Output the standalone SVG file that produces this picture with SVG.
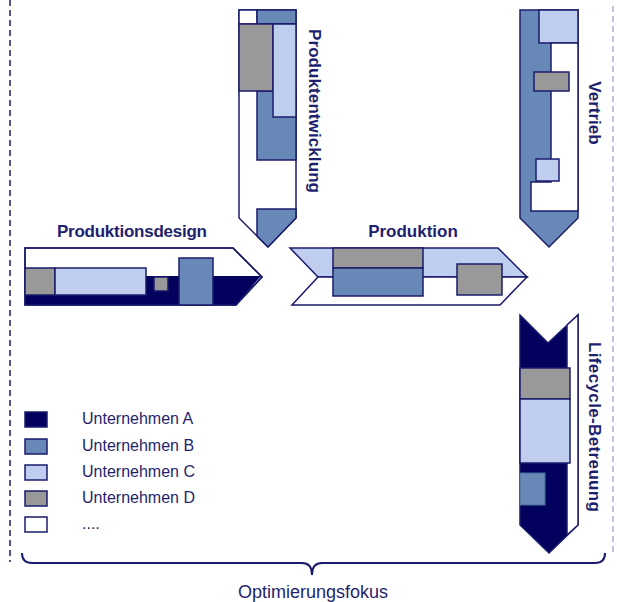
<svg xmlns="http://www.w3.org/2000/svg" width="617" height="602" viewBox="0 0 617 602">
<style>
.s{stroke:#1b1b6b;stroke-width:1.5;stroke-linejoin:miter}
.a{fill:#02025e}
.b{fill:#6888b8}
.c{fill:#bfcdee}
.d{fill:#999999}
.w{fill:#ffffff}
.t{font-family:"Liberation Sans",Arial,sans-serif;font-weight:bold;font-size:17px;fill:#1f1f6f}
.l{font-family:"Liberation Sans",Arial,sans-serif;font-size:16px;fill:#1f1f6f}
</style>
<rect width="617" height="602" fill="#ffffff"/>
<g id="frame">
<line x1="10" y1="0" x2="10" y2="562" stroke="#1b1b6b" stroke-width="1.5" stroke-dasharray="6 4"/>
<line x1="613" y1="6" x2="613" y2="556" stroke="#a8b0d4" stroke-width="1.5" stroke-dasharray="6 4"/>
</g>
<g id="produktentwicklung">
<polygon class="s w" points="239,10 296,10 296,218 268,247 239,218"/>
<rect class="s w" x="239" y="10" width="18" height="14"/>
<rect class="s b" x="257" y="10" width="39" height="14"/>
<rect class="s b" x="257" y="91" width="39" height="69"/>
<rect class="s d" x="239" y="24" width="34" height="67"/>
<rect class="s c" x="273" y="24" width="23" height="93"/>
<polygon class="s b" points="257,209 296,209 296,218 268,247 257,236"/>
<text class="t" x="309" y="111" text-anchor="middle" transform="rotate(90 309 111)" textLength="164">Produktentwicklung</text>
</g>
<g id="vertrieb">
<polygon class="s b" points="520,10 578,10 578,218 549,247 520,218"/>
<rect class="s c" x="539" y="10" width="39" height="33"/>
<polygon class="s w" points="551,43 578,43 578,211 531,211 531,182 551,182"/>
<rect class="s d" x="534" y="72" width="35" height="19"/>
<rect class="s c" x="536" y="159" width="23" height="22"/>
<text class="t" x="589" y="113" text-anchor="middle" transform="rotate(90 589 113)">Vertrieb</text>
</g>
<g id="produktionsdesign">
<polygon class="s w" points="25,248 233,248 262,277 236,305 25,305"/>
<polygon class="a" points="25,276 261,276 236,305 25,305"/>
<polygon class="s" fill="none" points="25,248 233,248 262,277 236,305 25,305"/>
<rect class="s d" x="25" y="268" width="30" height="27"/>
<rect class="s c" x="55" y="268" width="91" height="27"/>
<rect class="s d" x="154" y="277" width="14" height="14"/>
<rect class="s b" x="179" y="258" width="34" height="47"/>
<text class="t" x="132" y="237" text-anchor="middle" textLength="150">Produktionsdesign</text>
</g>
<g id="produktion">
<polygon class="s c" points="290,248 498,248 527,277 318,277"/>
<polygon class="s w" points="318,277 527,277 500,305 292,305"/>
<rect class="s d" x="333" y="248" width="90" height="20"/>
<rect class="s b" x="333" y="268" width="90" height="28"/>
<rect class="s d" x="457" y="264" width="45" height="31"/>
<text class="t" x="413" y="237" text-anchor="middle">Produktion</text>
</g>
<g id="lifecycle">
<polygon class="s a" points="520,315 548,343 578,315 578,525 549,553 520,525"/>
<polygon class="s w" points="567,325 578,315 578,525 567,535"/>
<rect class="s d" x="520" y="368" width="50" height="31"/>
<rect class="s c" x="520" y="399" width="50" height="64"/>
<rect class="b" x="520" y="473" width="25" height="32" stroke="#4a6a9a" stroke-width="1"/>
<text class="t" x="589" y="427" text-anchor="middle" transform="rotate(90 589 427)" textLength="170">Lifecycle-Betreuung</text>
</g>
<g id="legend">
<rect class="s a" x="25" y="412" width="22" height="15"/>
<rect class="s b" x="25" y="439" width="22" height="15"/>
<rect class="s c" x="25" y="465" width="22" height="15"/>
<rect class="s d" x="25" y="491" width="22" height="15"/>
<rect class="s w" x="25" y="517" width="22" height="15"/>
<text class="l" x="82" y="424">Unternehmen A</text>
<text class="l" x="82" y="451">Unternehmen B</text>
<text class="l" x="82" y="477">Unternehmen C</text>
<text class="l" x="82" y="503">Unternehmen D</text>
<text class="l" x="82" y="529">....</text>
</g>
<g id="connectors">
<path d="M22,553 Q22,563 32,563 H302 Q312,563 312,575 Q312,563 322,563 H595 Q605,563 605,553" fill="none" stroke="#1b1b6b" stroke-width="2"/>
</g>
<g id="focus">
<text class="l" x="313" y="598" text-anchor="middle" style="font-size:18px">Optimierungsfokus</text>
</g>
</svg>
